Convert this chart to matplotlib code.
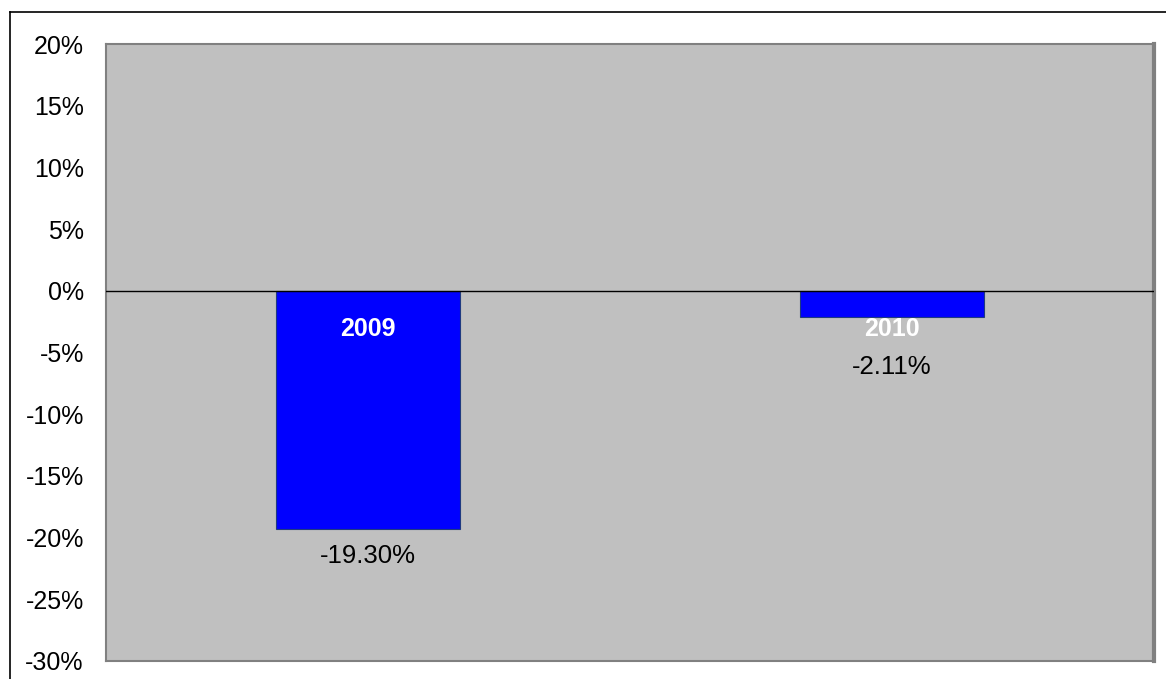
import matplotlib
matplotlib.use("Agg")
import matplotlib.pyplot as plt
from matplotlib.lines import Line2D

years = ["2009", "2010"]
returns = [-19.30, -2.11]
value_labels = ["-19.30%", "-2.11%"]
yticks = [20, 15, 10, 5, 0, -5, -10, -15, -20, -25, -30]

plt.rcParams["font.family"] = ["Liberation Sans", "DejaVu Sans"]

fig = plt.figure(figsize=(11.66, 6.79), dpi=100)
ax = fig.add_axes([106 / 1166, 1 - 661 / 679, 1048 / 1166, 617 / 679])
ax.set_facecolor("#c0c0c0")

x = list(range(len(years)))
ax.bar(x, returns, width=0.353, color="#0000ff", edgecolor="#1f3a80", linewidth=0.8, zorder=2)
ax.axhline(0, color="black", lw=1, zorder=3)

for i, (yr, v, lab) in enumerate(zip(years, returns, value_labels)):
    ax.text(i, -3.1, yr, color="white", fontsize=18, fontweight="bold",
            ha="center", va="center", zorder=4)
    ax.text(i, min(v, -4) - 2.2, lab, color="black", fontsize=18.5,
            ha="center", va="center", zorder=4)

ax.set_xlim(-0.5, 1.5)
ax.set_ylim(-30, 20)
ax.set_yticks(yticks)
ax.set_yticklabels([f"{t}%" for t in yticks], fontsize=18)
ax.set_xticks([])
ax.tick_params(axis="y", length=0, pad=16)
for s in ax.spines.values():
    s.set_color("#808080")
    s.set_linewidth(1.5)
ax.spines["right"].set_linewidth(3)

# outer chart frame (cut off on right/bottom)
fig.add_artist(Line2D([10 / 1166, 1.0], [1 - 12 / 679] * 2, color="black", lw=1.2,
                      transform=fig.transFigure))
fig.add_artist(Line2D([10 / 1166] * 2, [0, 1 - 12 / 679], color="black", lw=1.2,
                      transform=fig.transFigure))

fig.savefig("out.png", dpi=100)
